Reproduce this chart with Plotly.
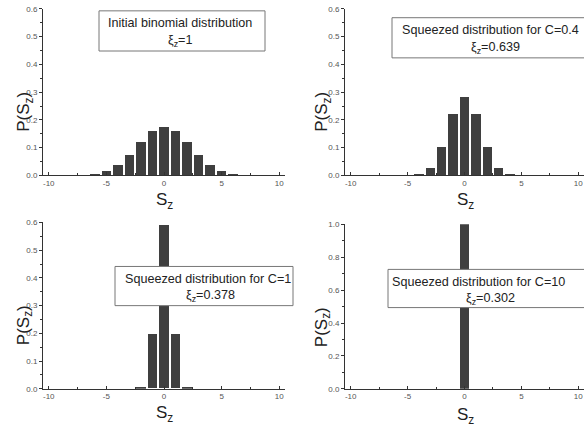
import plotly.graph_objects as go

W, H = 584, 435

# Data
sz = list(range(-10, 11))
p_initial = [0, 0, 0.0002, 0.0011, 0.0046, 0.0148, 0.037, 0.074, 0.120, 0.160, 0.176,
             0.160, 0.120, 0.074, 0.037, 0.0148, 0.0046, 0.0011, 0.0002, 0, 0]
p_c04 = [0, 0, 0, 0, 0, 0.0005, 0.005, 0.028, 0.103, 0.222, 0.284,
         0.222, 0.103, 0.028, 0.005, 0.0005, 0, 0, 0, 0, 0]
p_c1 = [0, 0, 0, 0, 0, 0, 0, 0, 0.005, 0.198, 0.590,
        0.198, 0.005, 0, 0, 0, 0, 0, 0, 0, 0]
p_c10 = [0, 0, 0, 0, 0, 0, 0, 0, 0, 0.0, 1.0,
         0.0, 0, 0, 0, 0, 0, 0, 0, 0, 0]

x_tickvals = [-10, -5, 0, 5, 10]
x_ticktext = ["-10", "-5", "0", "5", "10"]
y_tickvals_06 = [0.0, 0.1, 0.2, 0.3, 0.4, 0.5, 0.6]
y_ticktext_06 = ["0.0", "0.1", "0.2", "0.3", "0.4", "0.5", "0.6"]
y_tickvals_10 = [0.0, 0.2, 0.4, 0.6, 0.8, 1.0]
y_ticktext_10 = ["0.0", "0.2", "0.4", "0.6", "0.8", "1.0"]

labels_line1 = ["Initial binomial distribution", "Squeezed distribution for C=0.4",
                "Squeezed distribution for C=1", "Squeezed distribution for C=10"]
xi_values = ["1", "0.639", "0.378", "0.302"]
y_ranges = [[0, 0.6], [0, 0.6], [0, 0.6], [0, 1.0]]
y_ticks = [(y_tickvals_06, y_ticktext_06, 0.05), (y_tickvals_06, y_ticktext_06, 0.05),
           (y_tickvals_06, y_ticktext_06, 0.05), (y_tickvals_10, y_ticktext_10, 0.1)]

series = [p_initial, p_c04, p_c1, p_c10]

def px(x):
    return x / W

def py(y):
    return 1 - y / H

# panel geometry in pixels: (x0, x1, ybottom, ytop)
panels = [(43, 285, 175, 5), (345, 584, 175, 5), (43, 285, 393, 223), (345, 584, 393, 225)]

fig = go.Figure()
for i, vals in enumerate(series):
    n = i + 1
    fig.add_trace(go.Bar(x=sz, y=vals, width=0.82,
                         marker=dict(color="#3f3f3f", line=dict(width=0)),
                         xaxis=f"x{n}" if n > 1 else "x", yaxis=f"y{n}" if n > 1 else "y",
                         showlegend=False))

axis_font = dict(family="Liberation Sans, Arial, sans-serif", size=8, color="#555")
layout = dict(width=W, height=H, margin=dict(l=0, r=0, t=0, b=0),
              paper_bgcolor="white", plot_bgcolor="white", bargap=0)

for i, (x0, x1, yb, yt) in enumerate(panels):
    n = i + 1
    xa = "xaxis" if n == 1 else f"xaxis{n}"
    ya = "yaxis" if n == 1 else f"yaxis{n}"
    xref = "x" if n == 1 else f"x{n}"
    yref = "y" if n == 1 else f"y{n}"
    tv, tt, mdt = y_ticks[i]
    layout[xa] = dict(domain=[px(x0), min(px(x1), 1)], range=[-10.5, 10.5], anchor=yref,
                      tickmode="array", tickvals=x_tickvals, ticktext=x_ticktext,
                      ticks="inside", ticklen=3,
                      tickcolor="#333", showline=True, linecolor="#333", linewidth=1,
                      showgrid=False, zeroline=False, tickfont=axis_font,
                      minor=dict(ticks="inside", tick0=0, dtick=2.5, ticklen=2, tickcolor="#333"))
    layout[ya] = dict(domain=[py(yb), py(yt)], range=y_ranges[i], anchor=xref,
                      tickmode="array", tickvals=tv, ticktext=tt,
                      ticks="outside", ticklen=3, tickcolor="#333", showline=True,
                      linecolor="#333", linewidth=1, showgrid=False, zeroline=False,
                      tickfont=axis_font,
                      minor=dict(ticks="outside", tick0=0, dtick=mdt, ticklen=2,
                                 tickcolor="#333"))

fig.update_layout(**layout)

title_font = dict(family="Liberation Sans, Arial, sans-serif", size=17, color="#222")
# axis titles
ytitle_pos = [(25, 110), (323, 110), (25, 328), (323, 330)]
xtitle_pos = [(164, 201), (465, 201), (164, 419), (465, 421)]
for (x, y) in ytitle_pos:
    fig.add_annotation(x=px(x), y=py(y), xref="paper", yref="paper", text="P(S<sub>z</sub>)",
                       textangle=-90, showarrow=False, font=title_font,
                       xanchor="center", yanchor="middle")
for (x, y) in xtitle_pos:
    fig.add_annotation(x=px(x), y=py(y), xref="paper", yref="paper", text="S<sub>z</sub>",
                       showarrow=False, font=title_font, xanchor="center", yanchor="middle")

# label boxes (pixel coords): x0, x1, y0, y1, line1 center x, line1 y, line2 center x, line2 y
boxes = [(99, 265, 7, 48, 180, 19, 180, 38),
         (392, 600, 14, 55, 490, 27, 495, 45),
         (115, 293, 268, 308, 208, 281, 210, 298),
         (388, 600, 271, 310, 478, 284, 490, 301)]
lab_font = dict(family="Liberation Sans, Arial, sans-serif", size=12.6, color="#222")
for i, (x0, x1, y0, y1, cx1, cy1, cx2, cy2) in enumerate(boxes):
    fig.add_shape(type="rect", xref="paper", yref="paper", x0=px(x0), x1=px(x1),
                  y0=py(y1), y1=py(y0), line=dict(color="#777", width=1),
                  fillcolor="white", layer="above")
    fig.add_annotation(x=px(cx1), y=py(cy1), xref="paper", yref="paper", text=labels_line1[i],
                       showarrow=False, font=lab_font, xanchor="center", yanchor="middle")
    fig.add_annotation(x=px(cx2), y=py(cy2), xref="paper", yref="paper",
                       text="ξ<sub>z</sub>=" + xi_values[i],
                       showarrow=False, font=lab_font, xanchor="center", yanchor="middle")

fig.write_html("out.html")
